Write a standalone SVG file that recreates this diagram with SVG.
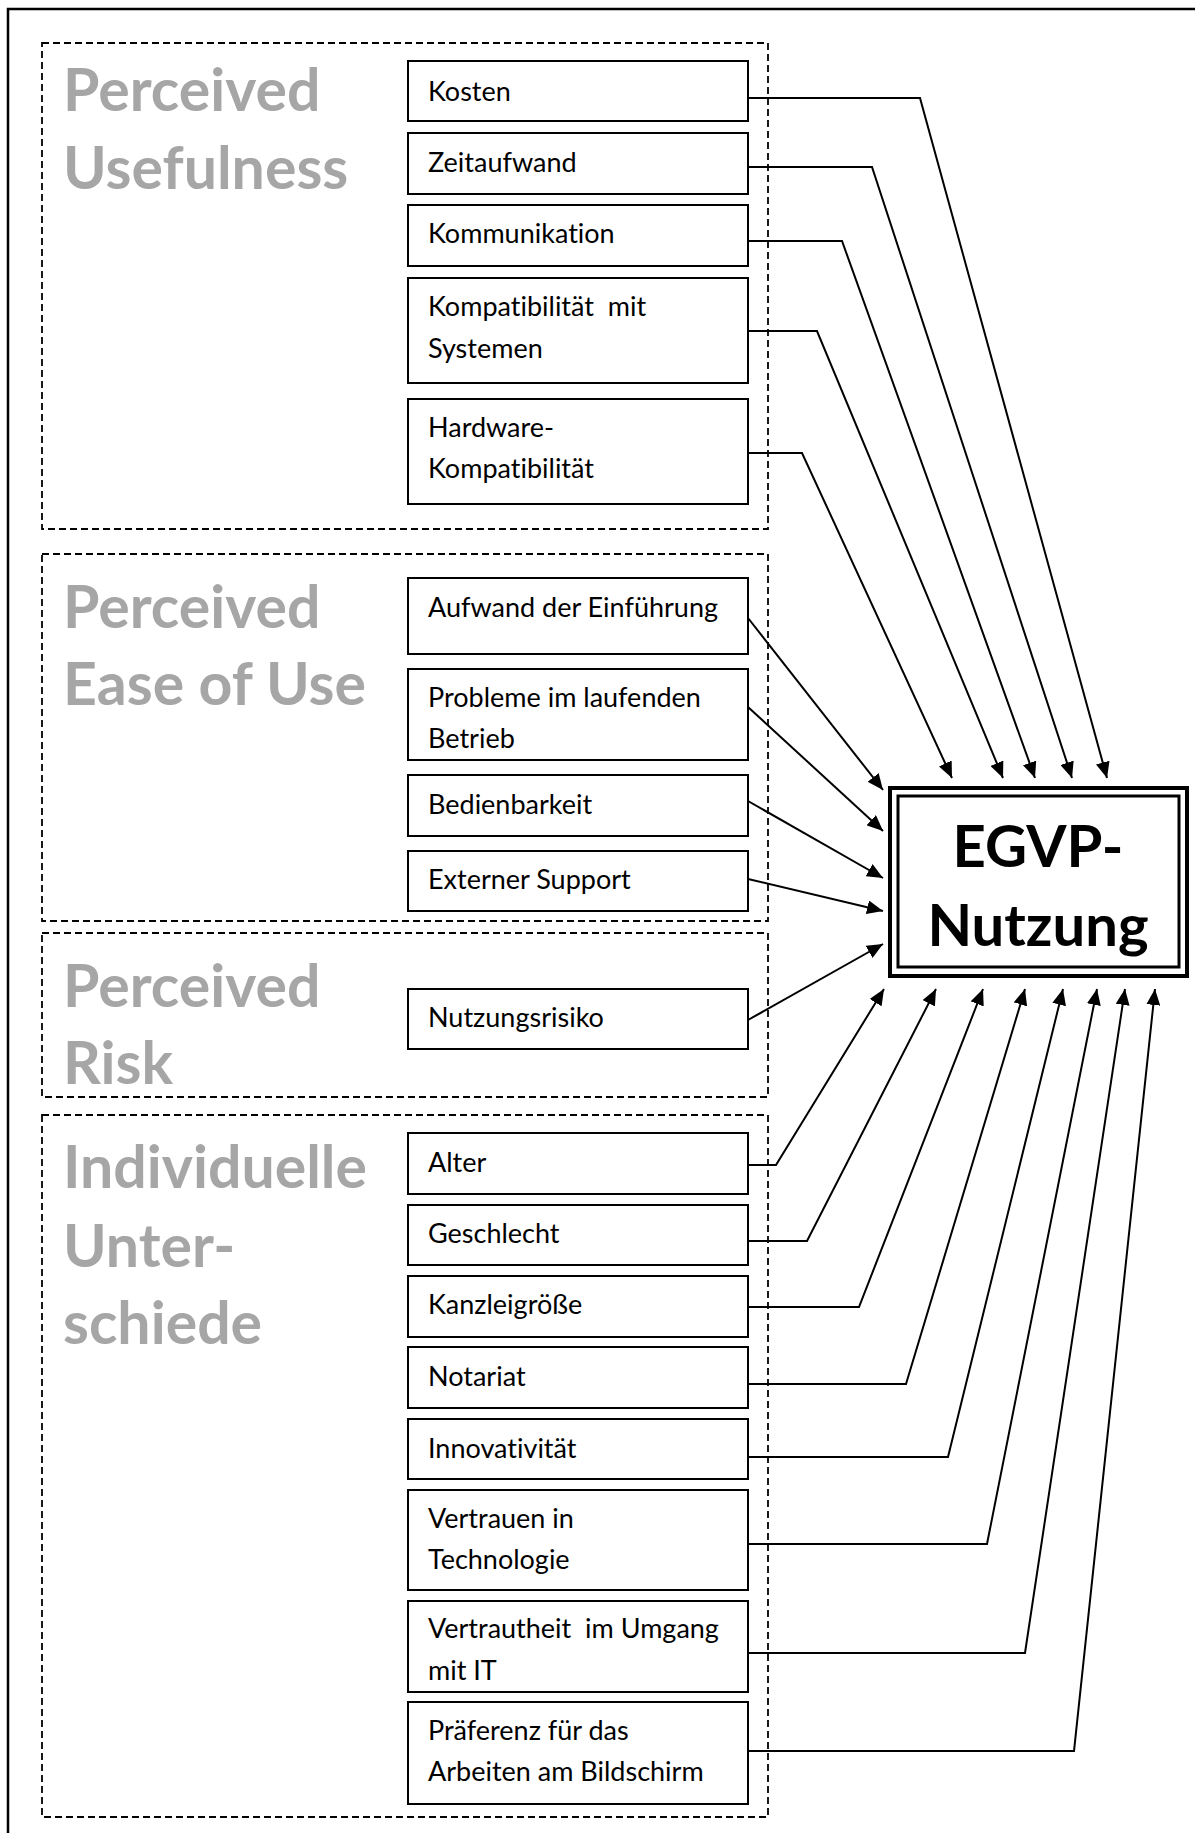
<svg xmlns="http://www.w3.org/2000/svg" width="1195" height="1833" viewBox="0 0 1195 1833">
<defs>
<style>
text{font-variant-ligatures:none;font-feature-settings:"liga" 0,"clig" 0}
.frame{fill:none;stroke:#000;stroke-width:2.5}
.grp{fill:none;stroke:#000;stroke-width:1.8;stroke-dasharray:7 4}
.box{fill:#fff;stroke:#000;stroke-width:2}
.lbl{font-family:Lato,"Liberation Sans",sans-serif;font-weight:bold;font-size:59px;fill:#a6a6a6}
.t{font-family:Lato,"Liberation Sans",sans-serif;font-size:27px;fill:#000}
.big{font-family:Lato,"Liberation Sans",sans-serif;font-weight:bold;font-size:58px;fill:#000;text-anchor:middle}
.c{fill:none;stroke:#000;stroke-width:2;marker-end:url(#ah)}
</style>
<marker id="ah" viewBox="0 0 16 14" refX="16" refY="7" markerWidth="16" markerHeight="14" markerUnits="userSpaceOnUse" orient="auto">
<path d="M0,0 L16,7 L0,14 z" fill="#000"/>
</marker>
</defs>
<rect width="1195" height="1833" fill="#fff"/>
<path class="frame" d="M8,1833 V9 H1195"/>

<g id="group-usefulness">
<rect class="grp" x="42" y="43" width="726" height="486"/>
<text class="lbl" x="63" y="111">Perceived</text>
<text class="lbl" x="63" y="189">Usefulness</text>
</g>
<g id="group-ease">
<rect class="grp" x="42" y="554" width="726" height="367"/>
<text class="lbl" x="63" y="628">Perceived</text>
<text class="lbl" x="63" y="705">Ease of Use</text>
</g>
<g id="group-risk">
<rect class="grp" x="42" y="933" width="726" height="164"/>
<text class="lbl" x="63" y="1007">Perceived</text>
<text class="lbl" x="63" y="1084">Risk</text>
</g>
<g id="group-individual">
<rect class="grp" x="42" y="1115" width="726" height="702"/>
<text class="lbl" x="63" y="1188">Individuelle</text>
<text class="lbl" x="63" y="1267">Unter-</text>
<text class="lbl" x="63" y="1344">schiede</text>
</g>

<g id="n-kosten"><rect class="box" x="408" y="61" width="340" height="60"/><text class="t" x="428" y="101">Kosten</text></g>
<g id="n-zeitaufwand"><rect class="box" x="408" y="133" width="340" height="61"/><text class="t" x="428" y="172">Zeitaufwand</text></g>
<g id="n-kommunikation"><rect class="box" x="408" y="205" width="340" height="61"/><text class="t" x="428" y="243">Kommunikation</text></g>
<g id="n-kompatibilitaet"><rect class="box" x="408" y="278" width="340" height="105"/><text class="t" x="428" y="316" xml:space="preserve">Kompatibilität  mit</text><text class="t" x="428" y="358">Systemen</text></g>
<g id="n-hardware"><rect class="box" x="408" y="399" width="340" height="105"/><text class="t" x="428" y="437">Hardware-</text><text class="t" x="428" y="478">Kompatibilität</text></g>

<g id="n-aufwand"><rect class="box" x="408" y="578" width="340" height="76"/><text class="t" x="428" y="617">Aufwand der Einführung</text></g>
<g id="n-probleme"><rect class="box" x="408" y="669" width="340" height="91"/><text class="t" x="428" y="707">Probleme im laufenden</text><text class="t" x="428" y="748">Betrieb</text></g>
<g id="n-bedienbarkeit"><rect class="box" x="408" y="775" width="340" height="61"/><text class="t" x="428" y="814">Bedienbarkeit</text></g>
<g id="n-support"><rect class="box" x="408" y="851" width="340" height="60"/><text class="t" x="428" y="889">Externer Support</text></g>

<g id="n-risiko"><rect class="box" x="408" y="989" width="340" height="60"/><text class="t" x="428" y="1027">Nutzungsrisiko</text></g>

<g id="n-alter"><rect class="box" x="408" y="1133" width="340" height="61"/><text class="t" x="428" y="1172">Alter</text></g>
<g id="n-geschlecht"><rect class="box" x="408" y="1205" width="340" height="60"/><text class="t" x="428" y="1243">Geschlecht</text></g>
<g id="n-kanzlei"><rect class="box" x="408" y="1276" width="340" height="61"/><text class="t" x="428" y="1314">Kanzleigröße</text></g>
<g id="n-notariat"><rect class="box" x="408" y="1347" width="340" height="61"/><text class="t" x="428" y="1386">Notariat</text></g>
<g id="n-innovativitaet"><rect class="box" x="408" y="1419" width="340" height="60"/><text class="t" x="428" y="1458">Innovativität</text></g>
<g id="n-vertrauen"><rect class="box" x="408" y="1490" width="340" height="100"/><text class="t" x="428" y="1528">Vertrauen in</text><text class="t" x="428" y="1569">Technologie</text></g>
<g id="n-vertrautheit"><rect class="box" x="408" y="1601" width="340" height="91"/><text class="t" x="428" y="1638" xml:space="preserve">Vertrautheit  im Umgang</text><text class="t" x="428" y="1680">mit IT</text></g>
<g id="n-praeferenz"><rect class="box" x="408" y="1702" width="340" height="102"/><text class="t" x="428" y="1740">Präferenz für das</text><text class="t" x="428" y="1781">Arbeiten am Bildschirm</text></g>

<g id="n-egvp">
<rect x="890" y="788" width="297" height="188" fill="#fff" stroke="#000" stroke-width="4"/>
<rect x="898" y="796" width="281" height="171" fill="none" stroke="#000" stroke-width="3"/>
<text class="big" x="1038" y="867">EGVP-</text>
<text class="big" x="1038" y="946">Nutzung</text>
</g>

<g id="connectors">
<path class="c" d="M748,98 H920 L1107,778"/>
<path class="c" d="M748,167 H872 L1072,778"/>
<path class="c" d="M748,241 H842 L1035,778"/>
<path class="c" d="M748,331 H817 L1003,778"/>
<path class="c" d="M748,453 H802 L952,778"/>
<path class="c" d="M748,618 L883,790"/>
<path class="c" d="M748,707 L883,831"/>
<path class="c" d="M748,801 L883,878"/>
<path class="c" d="M748,879 L883,911"/>
<path class="c" d="M748,1020 L883,944"/>
<path class="c" d="M748,1165 H776 L884,989"/>
<path class="c" d="M748,1241 H807 L936,989"/>
<path class="c" d="M748,1307 H859 L983,989"/>
<path class="c" d="M748,1384 H906 L1025,989"/>
<path class="c" d="M748,1457 H948 L1063,989"/>
<path class="c" d="M748,1544 H987 L1097,989"/>
<path class="c" d="M748,1653 H1025 L1125,989"/>
<path class="c" d="M748,1751 H1074 L1155,989"/>
</g>
</svg>
